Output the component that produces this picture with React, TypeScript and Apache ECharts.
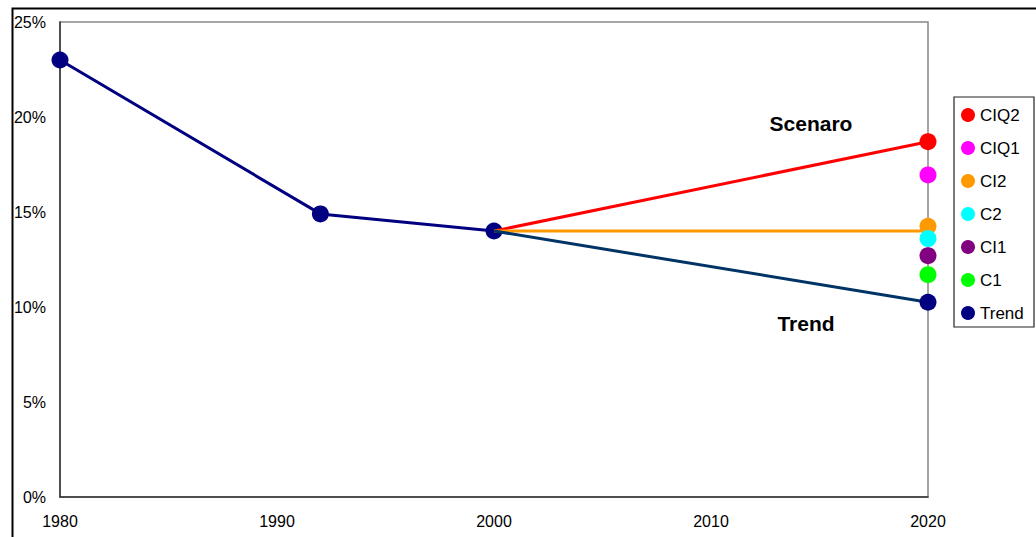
import React, { useEffect, useRef } from "react";
import * as echarts from "echarts";

// Historical share (percent) and the 2000 base year
const trendYears = [1980, 1992, 2000];
const trendValues = [23.0, 14.9, 14.0];

// 2020 outcomes per scenario (percent)
const scenarioNames = ["CIQ2", "CIQ1", "CI2", "C2", "CI1", "C1", "Trend"];
const scenarioValues = [18.7, 16.95, 14.25, 13.6, 12.7, 11.7, 10.25];
const scenarioColors = ["#ff0000", "#ff00ff", "#ff9900", "#00ffff", "#800080", "#00ff00", "#000080"];

// Projection paths drawn from the 2000 base value to 2020
const projectionEndYear = 2020;
const redPathEnd = 18.7;
const orangePathEnd = 14.0;
const trendPathEnd = 10.25;

const yTicks = [0, 5, 10, 15, 20, 25];
const xTicks = [1980, 1990, 2000, 2010, 2020];

const FONT = "Arial, 'Liberation Sans', sans-serif";

export default function App() {
  const ref = useRef<HTMLDivElement>(null);

  useEffect(() => {
    if (!ref.current) return;
    const chart = echarts.init(ref.current, null, { renderer: "svg" });
    const baseYear = trendYears[trendYears.length - 1];
    const baseValue = trendValues[trendValues.length - 1];

    const scatterSeries = scenarioNames.map((name, i) => ({
      name,
      type: "scatter",
      z: 5,
      symbol: "circle",
      symbolSize: 17,
      itemStyle: { color: scenarioColors[i], opacity: 1 },
      data: [[projectionEndYear, scenarioValues[i]]],
    }));

    const pathSeries = (color: string, end: number) => ({
      type: "line",
      z: 4,
      showSymbol: false,
      symbol: "none",
      lineStyle: { color, width: 3 },
      data: [
        [baseYear, baseValue],
        [projectionEndYear, end],
      ],
    });

    chart.setOption({
      animation: false,
      backgroundColor: "#ffffff",
      textStyle: { fontFamily: FONT },
      grid: {
        left: 60,
        top: 22,
        right: 108,
        bottom: 40,
        show: true,
        borderColor: "#888888",
        borderWidth: 1.5,
      },
      xAxis: {
        type: "value",
        min: xTicks[0],
        max: xTicks[xTicks.length - 1],
        interval: 10,
        axisLine: { show: true, onZero: false, lineStyle: { color: "#333333", width: 1.5 } },
        axisTick: { show: false },
        splitLine: { show: false },
        axisLabel: {
          color: "#000",
          fontSize: 16,
          margin: 16,
          fontFamily: FONT,
          formatter: (v: number) => String(v),
        },
      },
      yAxis: {
        type: "value",
        min: yTicks[0],
        max: yTicks[yTicks.length - 1],
        interval: 5,
        axisLine: { show: true, lineStyle: { color: "#333333", width: 1.5 } },
        axisTick: { show: false },
        splitLine: { show: false },
        axisLabel: {
          color: "#000",
          fontSize: 16,
          margin: 14,
          fontFamily: FONT,
          formatter: "{value}%",
        },
      },
      legend: {
        orient: "vertical",
        left: 961,
        top: 105,
        padding: 0,
        icon: "circle",
        itemWidth: 14,
        itemHeight: 14,
        itemGap: 13,
        data: scenarioNames,
        textStyle: { color: "#000", fontSize: 17, lineHeight: 20, fontFamily: FONT },
      },
      graphic: [
        {
          type: "rect",
          left: 10,
          top: 6,
          z: -1,
          shape: { x: 0, y: 0, width: 1100, height: 600 },
          style: { fill: "none", stroke: "#000", lineWidth: 2 },
          silent: true,
        },
        {
          type: "rect",
          shape: { x: 954, y: 97, width: 80, height: 230 },
          style: { fill: "#fff", stroke: "#222", lineWidth: 1.2 },
          z: -1,
          silent: true,
        },
        {
          type: "text",
          x: 811,
          y: 123,
          style: {
            text: "Scenaro",
            font: `bold 21px ${FONT}`,
            fill: "#000",
            align: "center",
            verticalAlign: "middle",
          },
        },
        {
          type: "text",
          x: 806,
          y: 323,
          style: {
            text: "Trend",
            font: `bold 21px ${FONT}`,
            fill: "#000",
            align: "center",
            verticalAlign: "middle",
          },
        },
      ],
      series: [
        {
          name: "Trend",
          type: "line",
          z: 3,
          symbol: "circle",
          symbolSize: 17,
          itemStyle: { color: "#000080" },
          lineStyle: { color: "#000080", width: 3 },
          data: trendYears.map((y, i) => [y, trendValues[i]]),
        },
        pathSeries("#ff0000", redPathEnd),
        pathSeries("#ff9900", orangePathEnd),
        pathSeries("#003366", trendPathEnd),
        ...scatterSeries,
      ],
    });

    return () => chart.dispose();
  }, []);

  return (
    <div
      ref={ref}
      style={{ position: "fixed", left: 0, top: 0, width: 1036, height: 537, background: "#fff" }}
    />
  );
}
